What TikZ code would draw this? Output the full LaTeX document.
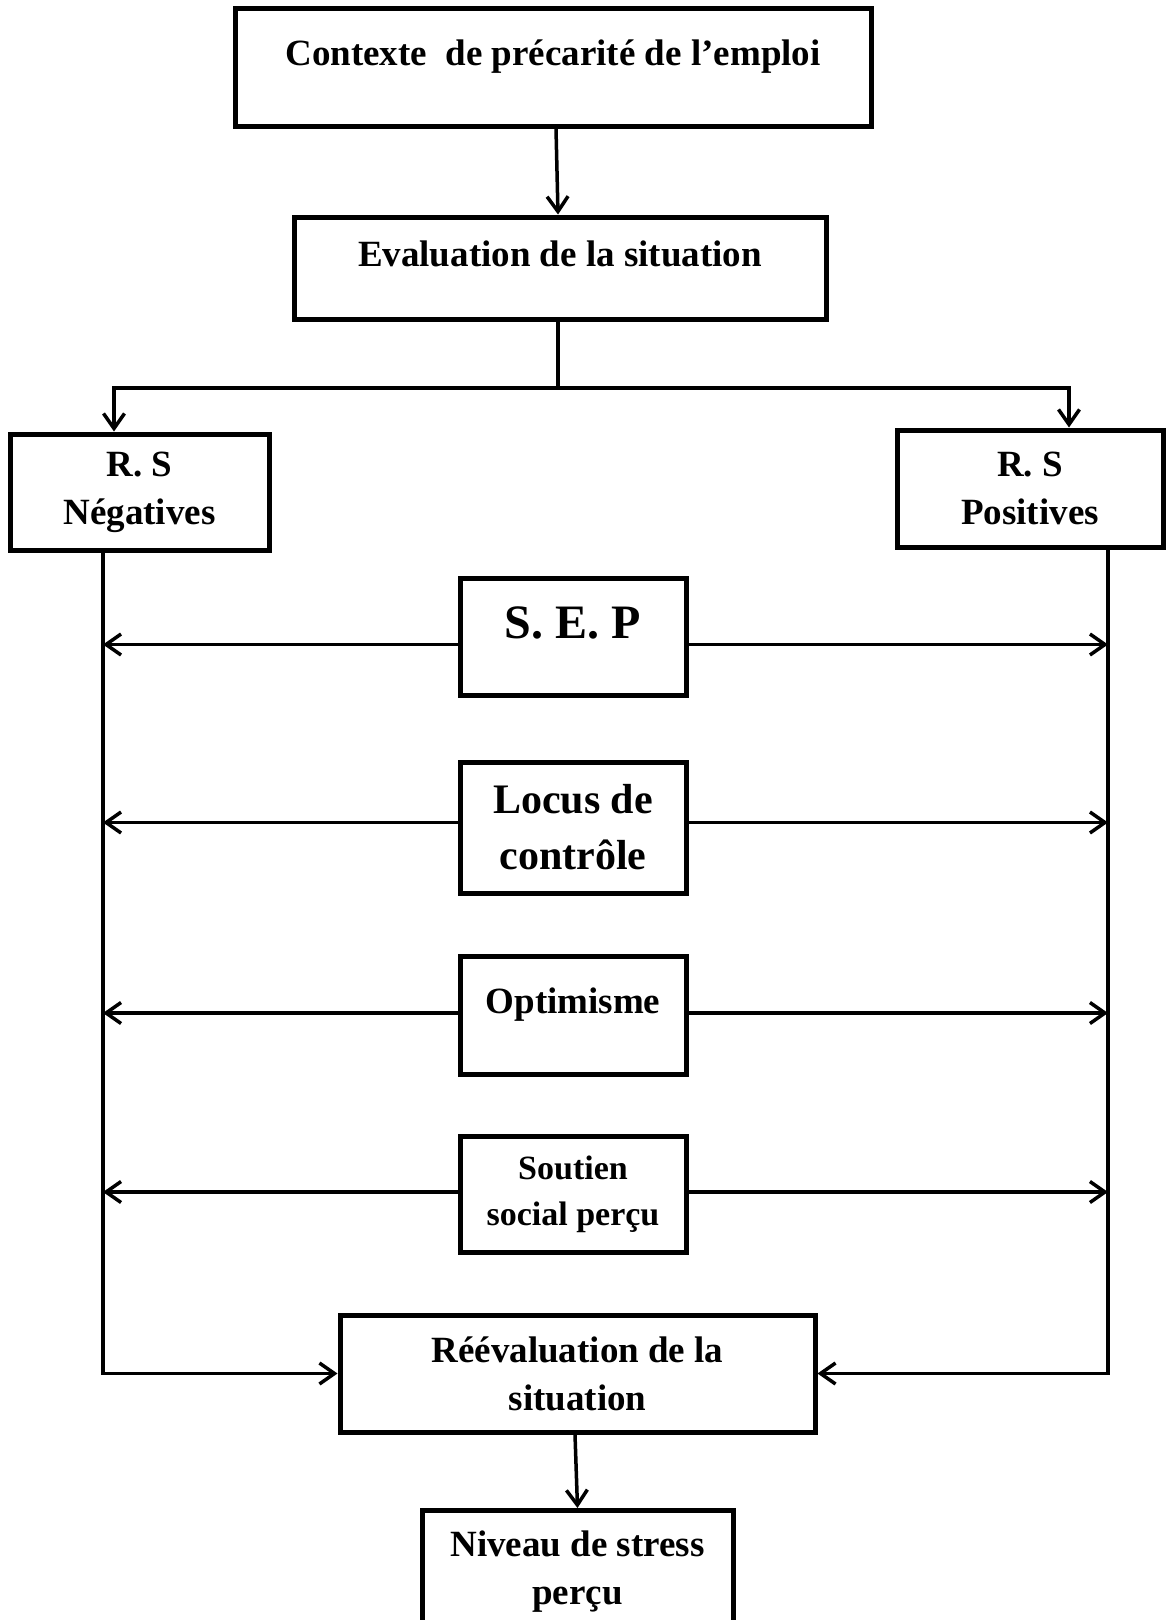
\documentclass[tikz,border=0pt]{standalone}
\usepackage{fontspec}
\setmainfont{Liberation Serif}
\usetikzlibrary{positioning,arrows.meta}

\begin{document}
\begin{tikzpicture}[x=1pt,y=-1pt]
        \tikzstyle{box}=[draw, line width=5pt, font=\bfseries\fontsize{37}{48}\selectfont, align=center, inner sep=0pt]
        \tikzstyle{oneline}=[text height=26pt, text depth=30pt]
        \tikzstyle{link}=[line width=3.5pt]
        \tikzstyle{arr}=[link, -{Straight Barb[length=15pt,width=21pt]}]

        \useasboundingbox (0,0) rectangle (1166,1620);

        \node[box, oneline, minimum width=636, minimum height=118] (ctx)    at (553,67)     {Contexte\ \ de précarité de l’emploi};
        \node[box, oneline, minimum width=532, minimum height=102] (eval)   at (560,268)    {Evaluation de la situation};
        \node[box, minimum width=259, minimum height=116]          (neg)    at (139.5,492)  {R. S\\Négatives};
        \node[box, minimum width=266, minimum height=117]          (pos)    at (1030,488.5) {R. S\\Positives};
        \node[box, minimum width=226, minimum height=117, text height=34pt, text depth=31pt,
              font=\bfseries\fontsize{48}{56}\selectfont]          (sep)    at (573,636.5)  {S. E. P};
        \node[box, minimum width=226, minimum height=131,
              font=\bfseries\fontsize{42}{56}\selectfont]          (locus)  at (573,827.5)  {Locus de\\contrôle};
        \node[box, oneline, minimum width=226, minimum height=118] (opt)    at (573,1015)   {Optimisme};
        \node[box, minimum width=226, minimum height=116,
              font=\bfseries\fontsize{34}{46}\selectfont]          (sout)   at (573,1194)   {Soutien\\social perçu};
        \node[box, minimum width=475, minimum height=117]          (reeval) at (577.5,1373.5) {Réévaluation de la\\situation};
        \node[box, minimum width=311, minimum height=122, anchor=north] (niv) at (577.5,1508) {Niveau de stress\\perçu};

        \coordinate (split) at (558,388);
        \coordinate (lft) at ([xshift=-36.5pt]neg.south);
        \coordinate (rgt) at ([xshift=78pt]pos.south);

        \draw[arr] ([xshift=3pt]ctx.south) -- ([xshift=-2pt]eval.north);
        \draw[link] ([xshift=-2pt]eval.south) -- (split);
        \draw[arr] (split) -| ([xshift=-25.5pt]neg.north);
        \draw[arr] (split) -| ([xshift=39pt]pos.north);

        \draw[arr] (lft) |- (reeval.west);
        \draw[arr] (rgt) |- (reeval.east);

        \foreach \b/\dy in {sep/-8,locus/5,opt/2,sout/2} {
            \coordinate (w) at ([yshift=\dy pt]\b.west);
            \coordinate (e) at ([yshift=\dy pt]\b.east);
            \draw[arr] (w) -- (w -| lft);
            \draw[arr] (e) -- (e -| rgt);
        }

        \draw[arr] ([xshift=-2.5pt]reeval.south) -- (niv.north);
    \end{tikzpicture}
\end{document}
